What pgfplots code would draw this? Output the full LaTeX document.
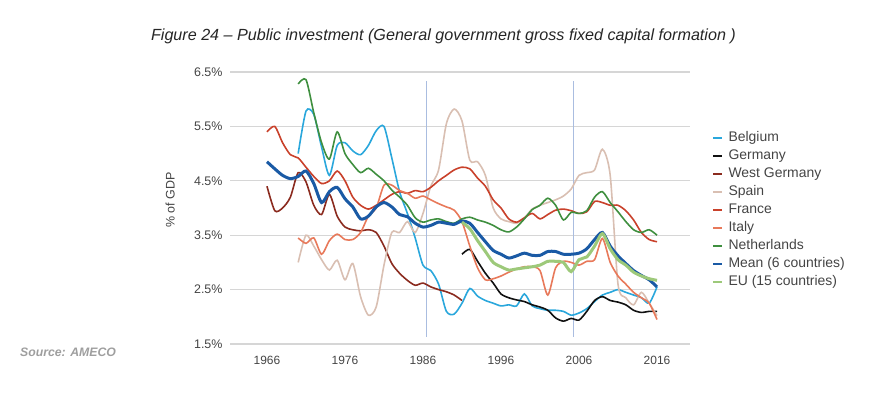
\documentclass[border=0pt]{standalone}
\usepackage{fontspec}
\setmainfont{Liberation Sans}
\usepackage{pgfplots}
\pgfplotsset{compat=1.18}
\definecolor{cBel}{HTML}{2AA7DC}
\definecolor{cGer}{HTML}{111111}
\definecolor{cWGer}{HTML}{8B2B1F}
\definecolor{cSpa}{HTML}{D9BFB2}
\definecolor{cFra}{HTML}{C9412B}
\definecolor{cIta}{HTML}{E8795A}
\definecolor{cNet}{HTML}{3F8F3F}
\definecolor{cMean}{HTML}{1A5AA5}
\definecolor{cEU}{HTML}{9DC97A}
\definecolor{cVline}{HTML}{AABDE0}
\definecolor{cGrid}{HTML}{D6D6D6}
\definecolor{cTxt}{HTML}{444444}

\pgfplotstableread{
year val
1970 5.0
1971 5.78
1972 5.72
1973 5.12
1974 4.6
1975 5.15
1976 5.2
1977 5.05
1978 4.98
1979 5.15
1980 5.42
1981 5.5
1982 4.92
1983 4.3
1984 3.9
1985 3.45
1986 2.95
1987 2.85
1988 2.6
1989 2.1
1990 2.05
1991 2.25
1992 2.52
1993 2.38
1994 2.3
1995 2.25
1996 2.2
1997 2.22
1998 2.2
1999 2.42
2000 2.2
2001 2.15
2002 2.12
2003 2.12
2004 2.1
2005 2.03
2006 2.07
2007 2.15
2008 2.28
2009 2.4
2010 2.45
2011 2.5
2012 2.45
2013 2.4
2014 2.35
2015 2.25
2016 2.55
}\belgium

\pgfplotstableread{
year val
1991 3.15
1992 3.24
1993 3.02
1994 2.8
1995 2.62
1996 2.42
1997 2.35
1998 2.31
1999 2.28
2000 2.22
2001 2.18
2002 2.12
2003 1.98
2004 1.92
2005 1.97
2006 1.94
2007 2.1
2008 2.3
2009 2.37
2010 2.3
2011 2.27
2012 2.22
2013 2.12
2014 2.08
2015 2.1
2016 2.1
}\germany

\pgfplotstableread{
year val
1966 4.4
1967 3.95
1968 4.0
1969 4.2
1970 4.65
1971 4.48
1972 4.05
1973 3.88
1974 4.25
1975 3.85
1976 3.65
1977 3.6
1978 3.58
1979 3.6
1980 3.55
1981 3.3
1982 2.98
1983 2.8
1984 2.67
1985 2.58
1986 2.62
1987 2.55
1988 2.5
1989 2.46
1990 2.4
1991 2.3
}\wgermany

\pgfplotstableread{
year val
1970 3.0
1971 3.5
1972 3.3
1973 3.05
1974 2.86
1975 3.04
1976 2.68
1977 2.98
1978 2.37
1979 2.03
1980 2.18
1981 2.95
1982 3.55
1983 3.55
1984 3.75
1985 3.55
1986 3.9
1987 4.4
1988 4.7
1989 5.55
1990 5.82
1991 5.6
1992 4.88
1993 4.85
1994 4.6
1995 4.0
1996 3.8
1997 3.75
1998 3.72
1999 3.82
2000 3.98
2001 4.05
2002 4.1
2003 4.15
2004 4.22
2005 4.35
2006 4.6
2007 4.65
2008 4.7
2009 5.08
2010 4.6
2011 2.6
2012 2.35
2013 2.22
2014 2.45
2015 2.25
2016 2.02
}\spain

\pgfplotstableread{
year val
1966 5.4
1967 5.5
1968 5.2
1969 4.98
1970 4.92
1971 4.75
1972 4.58
1973 4.45
1974 4.5
1975 4.68
1976 4.5
1977 4.2
1978 4.05
1979 3.98
1980 4.05
1981 4.15
1982 4.25
1983 4.3
1984 4.27
1985 4.32
1986 4.3
1987 4.38
1988 4.5
1989 4.6
1990 4.7
1991 4.75
1992 4.72
1993 4.55
1994 4.4
1995 4.15
1996 4.0
1997 3.8
1998 3.74
1999 3.82
2000 3.9
2001 3.8
2002 3.88
2003 3.96
2004 3.98
2005 3.95
2006 3.9
2007 3.93
2008 4.12
2009 4.1
2010 4.05
2011 4.05
2012 3.95
2013 3.78
2014 3.55
2015 3.42
2016 3.38
}\france

\pgfplotstableread{
year val
1970 3.45
1971 3.35
1972 3.45
1973 3.15
1974 3.4
1975 3.52
1976 3.42
1977 3.42
1978 3.55
1979 3.85
1980 4.0
1981 4.42
1982 4.42
1983 4.32
1984 4.27
1985 4.18
1986 4.22
1987 4.15
1988 4.08
1989 4.02
1990 3.96
1991 3.75
1992 3.3
1993 2.9
1994 2.68
1995 2.7
1996 2.75
1997 2.82
1998 2.88
1999 2.92
2000 2.92
2001 2.85
2002 2.4
2003 2.9
2004 3.02
2005 3.0
2006 2.95
2007 3.02
2008 3.05
2009 3.44
2010 3.0
2011 2.75
2012 2.6
2013 2.45
2014 2.35
2015 2.25
2016 1.95
}\italy

\pgfplotstableread{
year val
1970 6.28
1971 6.36
1972 5.75
1973 5.2
1974 4.9
1975 5.4
1976 5.0
1977 4.8
1978 4.65
1979 4.73
1980 4.62
1981 4.5
1982 4.33
1983 4.2
1984 4.05
1985 3.82
1986 3.74
1987 3.78
1988 3.8
1989 3.75
1990 3.72
1991 3.8
1992 3.83
1993 3.78
1994 3.74
1995 3.68
1996 3.6
1997 3.56
1998 3.65
1999 3.8
2000 3.97
2001 4.05
2002 4.18
2003 4.05
2004 3.78
2005 3.92
2006 3.9
2007 3.95
2008 4.2
2009 4.3
2010 4.1
2011 3.93
2012 3.75
2013 3.6
2014 3.55
2015 3.6
2016 3.5
}\netherlands

\pgfplotstableread{
year val
1966 4.85
1967 4.72
1968 4.6
1969 4.54
1970 4.58
1971 4.68
1972 4.45
1973 4.1
1974 4.3
1975 4.38
1976 4.17
1977 4.02
1978 3.8
1979 3.85
1980 4.02
1981 4.1
1982 4.02
1983 3.88
1984 3.84
1985 3.72
1986 3.65
1987 3.68
1988 3.74
1989 3.72
1990 3.7
1991 3.76
1992 3.72
1993 3.55
1994 3.38
1995 3.22
1996 3.15
1997 3.08
1998 3.12
1999 3.17
2000 3.13
2001 3.13
2002 3.2
2003 3.2
2004 3.15
2005 3.15
2006 3.17
2007 3.25
2008 3.42
2009 3.55
2010 3.3
2011 3.12
2012 2.98
2013 2.85
2014 2.76
2015 2.68
2016 2.55
}\meansix

\pgfplotstableread{
year val
1991 3.74
1992 3.62
1993 3.4
1994 3.2
1995 3.0
1996 2.92
1997 2.86
1998 2.88
1999 2.9
2000 2.92
2001 2.95
2002 3.02
2003 3.02
2004 3.0
2005 2.83
2006 3.05
2007 3.1
2008 3.3
2009 3.53
2010 3.25
2011 3.05
2012 2.95
2013 2.82
2014 2.75
2015 2.7
2016 2.67
}\eufifteen

\pgfplotstableread{
year val
1986.5 1.63
1986.5 6.34
}\vlineA
\pgfplotstableread{
year val
2005.3 1.63
2005.3 6.34
}\vlineB

\begin{document}
\begin{tikzpicture}[x=1bp,y=1bp]
\path[use as bounding box] (0,0) rectangle (890,394);
\node[font=\fontsize{16.2}{18}\selectfont\itshape, text=black!85] at (443.5,358) {Figure 24 -- Public investment (General government gross fixed capital formation )};
\node[font=\fontsize{12.3}{14}\selectfont\bfseries\itshape, text=black!38, anchor=west, inner sep=0] at (20,42) {Source: AMECO};
\begin{axis}[
  at={(230bp,50bp)}, anchor=south west,
  scale only axis, width=460bp, height=272bp,
  xmin=1961.26, xmax=2020.23, ymin=1.5, ymax=6.5,
  axis line style={draw=none},
  major tick length=0pt,
  ymajorgrids, grid style={color=cGrid, line width=1.3bp},
  xtick={1966,1976,1986,1996,2006,2016},
  ytick={1.5,2.5,3.5,4.5,5.5,6.5},
  /pgf/number format/assume math mode=true,
  xticklabel style={/pgf/number format/1000 sep={}, font=\fontsize{12}{14}\selectfont, text=cTxt, yshift=-9bp},
  yticklabel={\pgfmathprintnumber[fixed,fixed zerofill,precision=1]{\tick}\%},
  yticklabel style={font=\fontsize{12.5}{14}\selectfont, text=cTxt, xshift=-4bp},
  ylabel={\% of GDP},
  ylabel style={font=\fontsize{12.5}{14}\selectfont, text=cTxt, at={(axis description cs:-0.13,0.53)}, anchor=center},
  legend style={at={(axis description cs:1.041,0.792)}, anchor=north west, draw=none, fill=none,
    font=\fontsize{14}{16}\selectfont, text=cTxt, row sep=3.0bp, column sep=0bp,
    nodes={inner ysep=1bp, inner xsep=5.5bp, text height=10bp, text depth=3bp}},
  legend cell align=left,
  legend image code/.code={\draw[#1, line width=2bp] (0bp,0bp) -- (9bp,0bp);},
  every axis plot/.append style={smooth, tension=0.45, line width=1.6bp},
]
\addplot[cVline, line width=1.2bp, forget plot, sharp plot] table[x=year,y=val] {\vlineA};
\addplot[cVline, line width=1.2bp, forget plot, sharp plot] table[x=year,y=val] {\vlineB};
\addplot[cBel] table[x=year,y=val] {\belgium};
\addlegendentry{Belgium}
\addplot[cGer] table[x=year,y=val] {\germany};
\addlegendentry{Germany}
\addplot[cWGer] table[x=year,y=val] {\wgermany};
\addlegendentry{West Germany}
\addplot[cSpa] table[x=year,y=val] {\spain};
\addlegendentry{Spain}
\addplot[cFra] table[x=year,y=val] {\france};
\addlegendentry{France}
\addplot[cIta] table[x=year,y=val] {\italy};
\addlegendentry{Italy}
\addplot[cNet] table[x=year,y=val] {\netherlands};
\addlegendentry{Netherlands}
\addplot[cMean, line width=3bp] table[x=year,y=val] {\meansix};
\addlegendentry{Mean (6 countries)}
\addplot[cEU, line width=3bp] table[x=year,y=val] {\eufifteen};
\addlegendentry{EU (15 countries)}
\end{axis}
\end{tikzpicture}
\end{document}
